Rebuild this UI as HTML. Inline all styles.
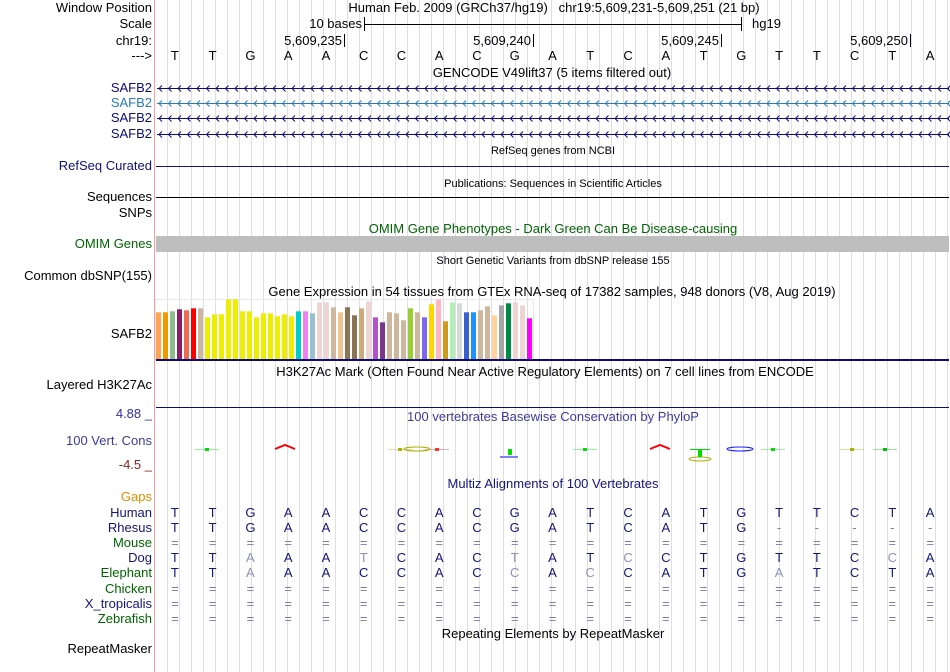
<!DOCTYPE html>
<html><head><meta charset="utf-8"><style>
body{margin:0;background:#fff;font-family:"Liberation Sans",sans-serif;}
#wrap{position:relative;width:950px;height:672px;overflow:hidden;}
.t{position:absolute;font-size:13px;white-space:nowrap;line-height:14px;}
.l{position:absolute;right:798px;font-size:13px;line-height:14px;white-space:nowrap;text-align:right;}
.c{transform:translateX(-50%);}
svg{position:absolute;left:0;top:0;}
</style></head><body>
<div id="wrap">
<svg id="bg" width="950" height="672"></svg>
<div class="l" style="top:1px">Window Position</div>
<div class="l" style="top:17px">Scale</div>
<div class="l" style="top:34px">chr19:</div>
<div class="l" style="top:49px">---&gt;</div>
<div class="l" style="top:81px;color:#0c0c78">SAFB2</div>
<div class="l" style="top:96px;color:#2a7ab8">SAFB2</div>
<div class="l" style="top:111px;color:#0c0c78">SAFB2</div>
<div class="l" style="top:127px;color:#0c0c78">SAFB2</div>
<div class="l" style="top:159px;color:#12127a">RefSeq Curated</div>
<div class="l" style="top:190px">Sequences</div>
<div class="l" style="top:206px">SNPs</div>
<div class="l" style="top:237px;color:#006400">OMIM Genes</div>
<div class="l" style="top:269px">Common dbSNP(155)</div>
<div class="l" style="top:327px">SAFB2</div>
<div class="l" style="top:378px">Layered H3K27Ac</div>
<div class="l" style="top:407px;color:#3030a0">4.88 _</div>
<div class="l" style="top:434px;color:#3a3aa0">100 Vert. Cons</div>
<div class="l" style="top:458px;color:#8b2020">-4.5 _</div>
<div class="l" style="top:490px;color:#e68a00">Gaps</div>
<div class="l" style="top:642px">RepeatMasker</div>

<div class="t c" style="left:554px;top:1px">Human Feb. 2009 (GRCh37/hg19) &nbsp; chr19:5,609,231-5,609,251 (21 bp)</div>
<div class="t" style="right:588px;top:17px">10 bases</div>
<div class="t" style="left:752px;top:17px">hg19</div>
<div class="t c" style="left:552px;top:66px">GENCODE V49lift37 (5 items filtered out)</div>
<div class="t c" style="left:553px;top:144px;font-size:11px">RefSeq genes from NCBI</div>
<div class="t c" style="left:553px;top:177px;font-size:11px">Publications: Sequences in Scientific Articles</div>
<div class="t c" style="left:553px;top:222px;color:#006400">OMIM Gene Phenotypes - Dark Green Can Be Disease-causing</div>
<div class="t c" style="left:553px;top:254px;font-size:11px">Short Genetic Variants from dbSNP release 155</div>
<div class="t c" style="left:552px;top:285px">Gene Expression in 54 tissues from GTEx RNA-seq of 17382 samples, 948 donors (V8, Aug 2019)</div>
<div class="t c" style="left:545px;top:365px">H3K27Ac Mark (Often Found Near Active Regulatory Elements) on 7 cell lines from ENCODE</div>
<div class="t c" style="left:553px;top:410px;color:#3a3aa0">100 vertebrates Basewise Conservation by PhyloP</div>
<div class="t c" style="left:553px;top:477px;color:#14147a">Multiz Alignments of 100 Vertebrates</div>
<div class="t c" style="left:553px;top:627px">Repeating Elements by RepeatMasker</div>
</div>
<script>
const bases=["T","T","G","A","A","C","C","A","C","G","A","T","C","A","T","G","T","T","C","T","A"];
const rhesus="TTGAACCACGATCATG-----";
const dog="TTAAATCACTATCCTGTTCCA";
const dogLight=[2,5,9,12,19];
const elephant="TTAAACCACCACCATGATCTA";
const elephantLight=[2,9,11,16];
const gtexValues=[46.7,46.7,47.7,49.7,48.7,50.7,50.7,41.7,44.7,44.7,59.7,59.7,47.7,47.7,41.7,45.7,45.7,42.7,44.7,42.7,47.7,47.7,45.7,56.7,56.7,51.7,46.7,51.7,43.7,50.7,57.7,41.7,36.7,46.7,45.7,38.7,50.7,46.7,41.7,54.7,59.7,37.7,56.7,55.7,46.7,46.7,48.7,52.7,43.7,53.7,55.7,56.7,53.7,40.7];
const gtexColors=["#FFA54F","#EE9A00","#8FBC8F","#8B1C62","#EE6A50","#FF0000","#CDB79E","#EEEE00","#EEEE00","#EEEE00","#EEEE00","#EEEE00","#EEEE00","#EEEE00","#EEEE00","#EEEE00","#EEEE00","#EEEE00","#EEEE00","#EEEE00","#00CDCD","#EE82EE","#9AC0CD","#EED5D2","#EED5D2","#CDB79E","#EEC591","#8B7355","#8B7355","#CDAA7D","#EED5D2","#B452CD","#7A378B","#CDB79E","#CDB79E","#CDB79E","#9ACD32","#CDB79E","#7B68EE","#FFD700","#FFB6C1","#CD9B1D","#B4EEB4","#D9D9D9","#3A5FCD","#1E90FF","#CDB79E","#CDB79E","#FFD39B","#A6A6A6","#008B45","#EED5D2","#EED5D2","#FF00FF"];
const rulerLabels=["5,609,235","5,609,240","5,609,245","5,609,250"];
const rulerBaseIdx=[4,9,14,19];
const species=["Human","Rhesus","Mouse","Dog","Elephant","Chicken","X_tropicalis","Zebrafish"];
const speciesColors=["#14147a","#14147a","#006400","#14147a","#006400","#006400","#14147a","#006400"];

const NS="http://www.w3.org/2000/svg";
const svg=document.getElementById('bg');
const wrap=document.getElementById('wrap');
const X0=156,BW=793/21;
function xb(i){return X0+BW*(i+0.5);}
function xe(i){return X0+BW*(i+1);}
function S(tag,a){const e=document.createElementNS(NS,tag);for(const k in a)e.setAttribute(k,a[k]);svg.appendChild(e);return e;}
for(let x=167;x<950;x+=12){const g=S('line',{x1:x+.5,y1:0,x2:x+.5,y2:672,stroke:'#dcdcf6','stroke-width':1});

}
const sep=S('line',{x1:154.5,y1:0,x2:154.5,y2:672,stroke:'#f4a0a0'});


S('line',{x1:364.5,y1:17,x2:364.5,y2:31,stroke:'#000'});
S('line',{x1:741.5,y1:17,x2:741.5,y2:31,stroke:'#000'});
S('line',{x1:364,y1:24.5,x2:742,y2:24.5,stroke:'#000'});
rulerLabels.forEach((t,k)=>{const x=Math.round(xe(rulerBaseIdx[k]));
S('line',{x1:x-.5,y1:34,x2:x-.5,y2:47,stroke:'#000'});
const d=document.createElement('div');d.className='t';d.style.right=(950-x+3)+'px';d.style.top='34px';d.textContent=t;


wrap.appendChild(d);});
function letterRow(str,y,color,light,nm){for(let i=0;i<21;i++){const ch=str[i];const d=document.createElement('div');d.className='t c';
d.style.left=xb(i)+'px';d.style.top=y+'px';d.textContent=ch;
let col=color;if(light&&light.includes(i))col='#9090b8';if(ch==='='||ch==='-')col='#7a7ab0';d.style.color=col;


wrap.appendChild(d);}}
letterRow(bases.join(''),49,'#000',null,'reference');
const geneY=[88,103,118,134],geneC=['#0c0c78','#2a7ab8','#0c0c78','#0c0c78'];
geneY.forEach((y,k)=>{const g=S('g',{stroke:geneC[k],fill:'none','stroke-width':1});


const ln=document.createElementNS(NS,'line');ln.setAttribute('x1',157);ln.setAttribute('x2',949);ln.setAttribute('y1',y+.5);ln.setAttribute('y2',y+.5);g.appendChild(ln);
let p='';for(let x=159;x<948;x+=9.5)p+=`M${x+3},${y-2.5}L${x},${y+.5}L${x+3},${y+3.5}`;
const pa=document.createElementNS(NS,'path');pa.setAttribute('d',p);g.appendChild(pa);});
S('line',{x1:156,y1:166.5,x2:949,y2:166.5,stroke:'#12127a'});
S('line',{x1:156,y1:197.5,x2:949,y2:197.5,stroke:'#000'});
const om=S('rect',{x:156,y:236,width:793,height:16,fill:'#bebebe'});


S('rect',{x:155.5,y:299.5,width:378,height:60,fill:'none',stroke:'#e6e6f0'});
gtexValues.forEach((v,i)=>{const r=S('rect',{x:156+i*7,y:359-v,width:5,height:v,fill:gtexColors[i]});

});
S('rect',{x:156,y:359,width:793,height:2,fill:'#0c0c78'});
S('line',{x1:156,y1:407.5,x2:949,y2:407.5,stroke:'#0c0c78'});
const cons=[[207,'#00e000',0],[285,'#ff0000',1],[400,'#b0b000',0],[437,'#ff3030',0],[510,'#00e000',2],[585,'#00e000',0],[660,'#ff0000',1],[700,'#00e000',3],[740,'#2020ff',4],[773,'#00e000',0],[852,'#b0b000',0],[885,'#00c000',0],[417,'#b0b000',4]];
cons.forEach(([x,c,t])=>{let e;
if(t===1)e=S('path',{d:`M${x-10},${449}L${x},${445}L${x+10},${449}`,stroke:c,fill:'none','stroke-width':2});
else if(t===2){S('rect',{x:x-10,y:456,width:18,height:2,fill:'#8080ff'});e=S('rect',{x:x-2,y:449,width:4,height:6,fill:c});}
else if(t===3){S('ellipse',{cx:x,cy:459,rx:11,ry:2,fill:'none',stroke:'#b0b000'});e=S('rect',{x:x-2,y:449,width:4,height:8,fill:c});S('line',{x1:x-10,y1:449.5,x2:x+10,y2:449.5,stroke:c});}
else if(t===4)e=S('ellipse',{cx:x,cy:449,rx:13,ry:2,fill:'none',stroke:c});
else{S('line',{x1:x-12,y1:449.5,x2:x+12,y2:449.5,stroke:c,'stroke-opacity':.4});e=S('rect',{x:x-2,y:448,width:4,height:3,fill:c});}

});
const rows=[bases.join(''),rhesus,"=".repeat(21),dog,elephant,"=".repeat(21),"=".repeat(21),"=".repeat(21)];
const lights=[null,null,null,dogLight,elephantLight,null,null,null];
species.forEach((s,k)=>{const y=506+k*15.1;
const d=document.createElement('div');d.className='l';d.style.top=y+'px';d.style.color=speciesColors[k];d.textContent=s;


wrap.appendChild(d);
letterRow(rows[k],y,'#14147a',lights[k],s.toLowerCase());});
</script>
</body></html>
